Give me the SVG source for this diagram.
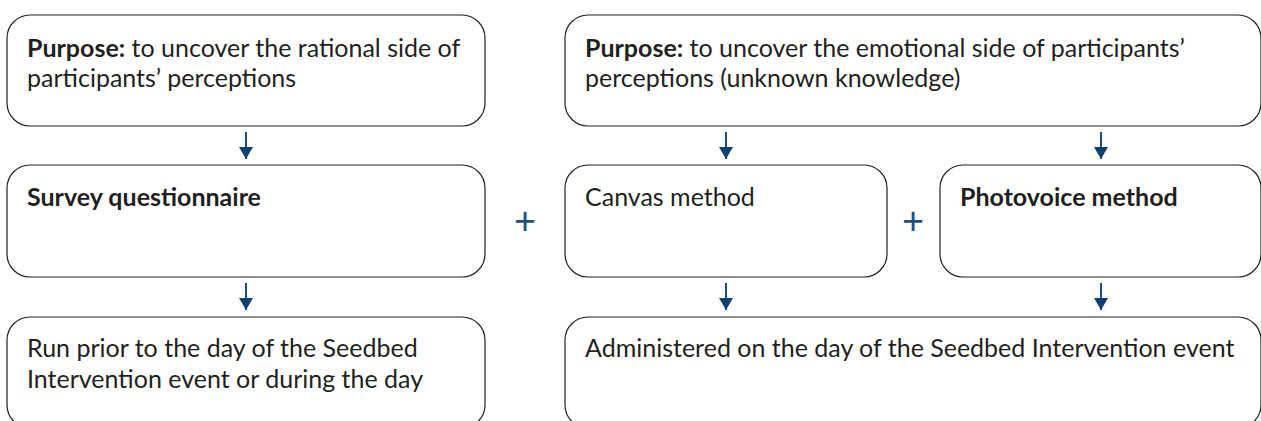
<svg xmlns="http://www.w3.org/2000/svg" width="1261" height="421" viewBox="0 0 1261 421">
<defs>
<style>
.box{fill:#fff;stroke:#231f20;stroke-width:1.2}
.t{font-family:Lato,"Liberation Sans",sans-serif;font-size:25px;fill:#231f20}
.b{font-weight:bold}
.plus{font-family:Lato,"Liberation Sans",sans-serif;font-size:38px;fill:#1b4f82;text-anchor:middle}
.arr{stroke:#1b4f82;stroke-width:2;fill:none}
</style>
<marker id="ah" viewBox="0 0 12 14" refX="12" refY="7" markerWidth="12" markerHeight="14" markerUnits="userSpaceOnUse" orient="auto">
<path d="M0,0 L12,7 L0,14 Z" fill="#0d3f73"/>
</marker>
</defs>
<rect width="1261" height="421" fill="#fff"/>
<g id="purpose-rational">
<rect class="box" x="7" y="15" width="478" height="111" rx="23"/>
<text class="t" x="27" y="57"><tspan class="b">Purpose:</tspan> to uncover the rational side of</text>
<text class="t" x="27" y="87">participants’ perceptions</text>
</g>
<g id="purpose-emotional">
<rect class="box" x="565" y="15" width="696" height="111" rx="23"/>
<text class="t" x="585" y="57"><tspan class="b">Purpose:</tspan> to uncover the emotional side of participants’</text>
<text class="t" x="585" y="87">perceptions (unknown knowledge)</text>
</g>
<g id="survey">
<rect class="box" x="7" y="165" width="478" height="112" rx="23"/>
<text class="t b" x="27" y="206">Survey questionnaire</text>
</g>
<g id="canvas">
<rect class="box" x="565" y="165" width="322" height="112" rx="23"/>
<text class="t" x="585" y="206">Canvas method</text>
</g>
<g id="photovoice">
<rect class="box" x="940" y="165" width="321" height="112" rx="23"/>
<text class="t b" x="960" y="206">Photovoice method</text>
</g>
<g id="run-prior">
<rect class="box" x="7" y="317" width="478" height="111" rx="23"/>
<text class="t" x="27" y="357">Run prior to the day of the Seedbed</text>
<text class="t" x="27" y="388">Intervention event or during the day</text>
</g>
<g id="administered">
<rect class="box" x="565" y="317" width="696" height="111" rx="23"/>
<text class="t" x="585" y="357">Administered on the day of the Seedbed Intervention event</text>
</g>
<g id="plus-signs">
<text class="plus" x="525" y="234">+</text>
<text class="plus" x="913" y="234">+</text>
</g>
<g id="connectors">
<line class="arr" x1="246" y1="132" x2="246" y2="159" marker-end="url(#ah)"/>
<line class="arr" x1="726" y1="132" x2="726" y2="159" marker-end="url(#ah)"/>
<line class="arr" x1="1101" y1="132" x2="1101" y2="159" marker-end="url(#ah)"/>
<line class="arr" x1="246" y1="283" x2="246" y2="310" marker-end="url(#ah)"/>
<line class="arr" x1="726" y1="283" x2="726" y2="310" marker-end="url(#ah)"/>
<line class="arr" x1="1101" y1="283" x2="1101" y2="310" marker-end="url(#ah)"/>
</g>
</svg>
